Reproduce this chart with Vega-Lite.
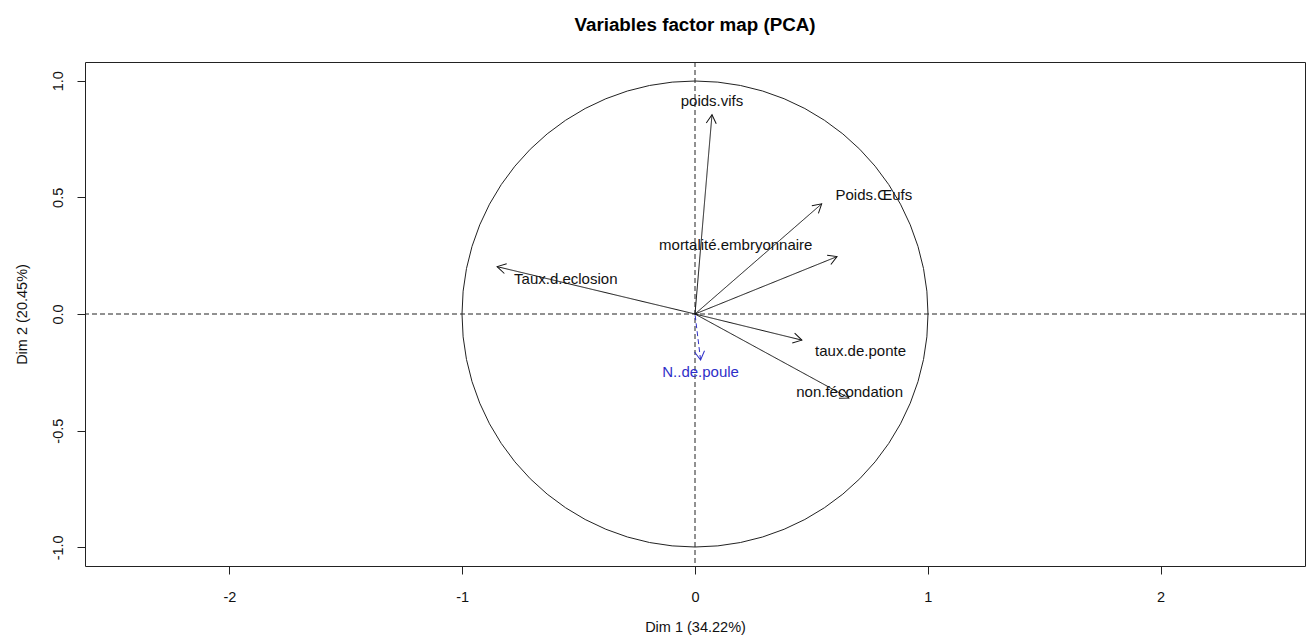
{
  "$schema": "https://vega.github.io/schema/vega-lite/v6.json",
  "width": 1220,
  "height": 504,
  "autosize": {"type": "none"},
  "padding": {"left": 85, "top": 62, "right": 9, "bottom": 76},
  "background": "white",
  "title": {
    "text": "Variables factor map (PCA)",
    "font": "Liberation Sans",
    "fontSize": 18.8,
    "fontWeight": "bold",
    "color": "black",
    "anchor": "middle",
    "baseline": "bottom",
    "offset": 8
  },
  "config": {
    "view": {"stroke": "#222", "strokeWidth": 1},
    "font": "Liberation Sans",
    "axis": {
      "grid": false,
      "domain": false,
      "tickColor": "#222",
      "tickSize": 8,
      "labelFont": "Liberation Sans",
      "labelFontSize": 14.5,
      "labelColor": "#111",
      "titleFont": "Liberation Sans",
      "titleFontSize": 14.5,
      "titleFontWeight": "normal",
      "titleColor": "#111"
    }
  },
  "datasets": {
    "vars": [
      {"name": "poids.vifs", "x": 0.073, "y": 0.854, "lx": 0.073, "ly": 0.912, "kind": "active"},
      {"name": "Poids.Œufs", "x": 0.544, "y": 0.472, "lx": 0.768, "ly": 0.511, "kind": "active"},
      {"name": "mortalité.embryonnaire", "x": 0.61, "y": 0.246, "lx": 0.175, "ly": 0.296, "kind": "active"},
      {"name": "Taux.d.eclosion", "x": -0.85, "y": 0.203, "lx": -0.555, "ly": 0.152, "kind": "active"},
      {"name": "taux.de.ponte", "x": 0.459, "y": -0.112, "lx": 0.711, "ly": -0.159, "kind": "active"},
      {"name": "non.fécondation", "x": 0.661, "y": -0.36, "lx": 0.664, "ly": -0.333, "kind": "active"},
      {"name": "N..de.poule", "x": 0.024, "y": -0.197, "lx": 0.024, "ly": -0.25, "kind": "supplementary"}
    ],
    "origin": [{"x": 0, "y": 0}]
  },
  "layer": [
    {
      "data": {"name": "origin"},
      "mark": {"type": "rule", "strokeDash": [5, 3], "color": "#222", "strokeWidth": 1},
      "encoding": {"y": {"datum": 0, "type": "quantitative", "scale": {"domain": [-1.08, 1.08], "nice": false, "zero": false}}}
    },
    {
      "data": {"name": "origin"},
      "mark": {"type": "rule", "strokeDash": [5, 3], "color": "#222", "strokeWidth": 1},
      "encoding": {"x": {"datum": 0, "type": "quantitative", "scale": {"domain": [-2.62, 2.62], "nice": false, "zero": false}}}
    },
    {
      "data": {"name": "origin"},
      "mark": {"type": "point", "shape": "circle", "size": 217156, "filled": false, "stroke": "#222", "strokeWidth": 1, "opacity": 1},
      "encoding": {
        "x": {"field": "x", "type": "quantitative"},
        "y": {"field": "y", "type": "quantitative"}
      }
    },
    {
      "data": {"name": "vars"},
      "mark": {"type": "rule", "strokeWidth": 1},
      "encoding": {
        "x": {"field": "x", "type": "quantitative"},
        "y": {"field": "y", "type": "quantitative"},
        "x2": {"datum": 0},
        "y2": {"datum": 0},
        "color": {"field": "kind", "type": "nominal", "scale": {"domain": ["active", "supplementary"], "range": ["#111", "#2f2fc8"]}, "legend": null},
        "strokeDash": {"field": "kind", "type": "nominal", "scale": {"domain": ["active", "supplementary"], "range": [[1, 0], [5, 3]]}, "legend": null}
      }
    },
    {
      "data": {"name": "vars"},
      "transform": [{"calculate": "atan2(datum.x, datum.y) * 180 / PI", "as": "ang"}],
      "mark": {"type": "point", "shape": "M -0.5 0.866 L 0 0 L 0.5 0.866", "size": 400, "filled": false, "strokeWidth": 1, "opacity": 1},
      "encoding": {
        "x": {"field": "x", "type": "quantitative"},
        "y": {"field": "y", "type": "quantitative"},
        "angle": {"field": "ang", "type": "quantitative", "scale": null},
        "color": {"field": "kind", "type": "nominal", "legend": null}
      }
    },
    {
      "data": {"name": "vars"},
      "mark": {"type": "text", "font": "Liberation Sans", "fontSize": 15, "align": "center", "baseline": "middle"},
      "encoding": {
        "x": {"field": "lx", "type": "quantitative"},
        "y": {"field": "ly", "type": "quantitative"},
        "text": {"field": "name"},
        "color": {"field": "kind", "type": "nominal", "legend": null}
      }
    }
  ],
  "resolve": {"scale": {"color": "shared"}},
  "encoding": {
    "x": {
      "type": "quantitative",
      "axis": {"values": [-2, -1, 0, 1, 2], "title": "Dim 1 (34.22%)", "labelPadding": 16, "titlePadding": 17, "labelExpr": "replace(format(datum.value, 'd'), '\u2212', '-')"}
    },
    "y": {
      "type": "quantitative",
      "axis": {"values": [-1, -0.5, 0, 0.5, 1], "title": "Dim 2 (20.45%)", "labelExpr": "replace(format(datum.value, '.1f'), '\u2212', '-')", "labelAngle": -90, "labelAlign": "center", "labelBaseline": "bottom", "labelPadding": 12, "titlePadding": 21}
    }
  }
}
